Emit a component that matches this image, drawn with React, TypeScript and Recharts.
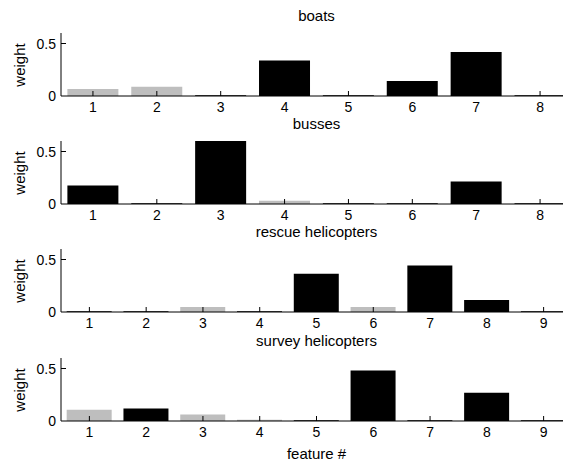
import React from 'react';
import { BarChart, Bar, XAxis, YAxis, Cell } from 'recharts';

const features8 = ['1', '2', '3', '4', '5', '6', '7', '8'];
const features9 = ['1', '2', '3', '4', '5', '6', '7', '8', '9'];
const yTicks = [0, 0.5];

const boatsWeights = [0.067, 0.087, 0.006, 0.337, 0.006, 0.144, 0.42, 0.006];
const boatsShade = ['g', 'g', 'k', 'k', 'k', 'k', 'k', 'k'];

const bussesWeights = [0.176, 0.006, 0.6, 0.032, 0.006, 0.006, 0.215, 0.006];
const bussesShade = ['k', 'k', 'k', 'g', 'k', 'k', 'k', 'k'];

const rescueWeights = [0.006, 0.006, 0.048, 0.006, 0.365, 0.048, 0.442, 0.115, 0.006];
const rescueShade = ['k', 'k', 'g', 'k', 'k', 'g', 'k', 'k', 'k'];

const surveyWeights = [0.106, 0.119, 0.061, 0.012, 0.006, 0.481, 0.006, 0.269, 0.006];
const surveyShade = ['g', 'k', 'g', 'g', 'k', 'k', 'k', 'k', 'k'];

const titles = ['boats', 'busses', 'rescue helicopters', 'survey helicopters'];

const FONT = '"Liberation Sans", Arial, Helvetica, sans-serif';
const GRAY = '#bebebe';
const BLACK = '#000000';

const panels = [
  { title: titles[0], cats: features8, vals: boatsWeights, shade: boatsShade },
  { title: titles[1], cats: features8, vals: bussesWeights, shade: bussesShade },
  { title: titles[2], cats: features9, vals: rescueWeights, shade: rescueShade },
  { title: titles[3], cats: features9, vals: surveyWeights, shade: surveyShade },
];

const panelTops = [0, 108, 216, 325];
const CHART_W = 580;
const PLOT_TOP = 33;
const PLOT_H = 63;
const Y_AXIS_W = 61;
const RIGHT = 8;
const TICK_FS = 14;

const XTick = (props: any) => {
  const { x, y, payload } = props;
  return (
    <g>
      <line x1={x} x2={x} y1={y} y2={y - 5} stroke="#000" strokeWidth={1} />
      <text x={x} y={y + 16.3} textAnchor="middle" fontSize={TICK_FS} fontFamily={FONT} fill="#000">
        {payload.value}
      </text>
    </g>
  );
};

const YTick = (props: any) => {
  const { x, y, payload } = props;
  return (
    <g>
      {payload.value !== 0 && <line x1={x} x2={x + 5} y1={y} y2={y} stroke="#000" strokeWidth={1} />}
      <text x={x - 5} y={y + 5} textAnchor="end" fontSize={TICK_FS} fontFamily={FONT} fill="#000">
        {String(payload.value)}
      </text>
    </g>
  );
};

function Panel({ idx }: { idx: number }) {
  const p = panels[idx];
  const data = p.cats.map((c, i) => ({ feature: c, weight: p.vals[i] }));
  const height = idx === 3 ? 135 : 125;
  const top = panelTops[idx];
  const plotLeft = Y_AXIS_W;
  const plotRight = CHART_W - RIGHT;
  const plotCenter = (plotLeft + plotRight) / 2;
  return (
    <>
      <div
        style={{
          position: 'absolute',
          left: plotCenter,
          top: top + PLOT_TOP - 22.2,
          transform: 'translate(-50%, 0)',
          fontFamily: FONT,
          fontSize: 15,
          lineHeight: '10px',
          whiteSpace: 'nowrap',
          color: '#000',
        }}
      >
        {p.title}
      </div>
      <div
        style={{
          position: 'absolute',
          left: 19,
          top: top + PLOT_TOP + PLOT_H / 2,
          transform: 'translate(-50%, -50%) rotate(-90deg)',
          fontFamily: FONT,
          fontSize: 15,
          lineHeight: '15px',
          whiteSpace: 'nowrap',
          color: '#000',
        }}
      >
        weight
      </div>
      <div style={{ position: 'absolute', left: 0, top }}>
        <BarChart
          width={CHART_W}
          height={height}
          data={data}
          margin={{ top: PLOT_TOP, right: RIGHT, left: 0, bottom: 0 }}
          barCategoryGap="10%"
        >
          <XAxis
            dataKey="feature"
            type="category"
            height={height - PLOT_TOP - PLOT_H}
            tickSize={0}
            tickMargin={0}
            tickLine={false}
            axisLine={{ stroke: '#000', strokeWidth: 1 }}
            tick={<XTick />}
            interval={0}
          />
          <YAxis
            type="number"
            domain={[0, 0.6]}
            ticks={yTicks}
            width={Y_AXIS_W}
            tickSize={0}
            tickMargin={0}
            tickLine={false}
            axisLine={{ stroke: '#000', strokeWidth: 1 }}
            tick={<YTick />}
            allowDataOverflow
          />
          <Bar dataKey="weight" isAnimationActive={false}>
            {data.map((d, i) => (
              <Cell key={d.feature} fill={p.shade[i] === 'g' ? GRAY : BLACK} />
            ))}
          </Bar>
        </BarChart>
      </div>
    </>
  );
}

export default function App() {
  return (
    <div
      style={{
        position: 'absolute',
        left: 0,
        top: 0,
        width: 563,
        height: 460,
        overflow: 'hidden',
        background: '#fff',
      }}
    >
      {[0, 1, 2, 3].map((i) => (
        <Panel key={i} idx={i} />
      ))}
      <div
        style={{
          position: 'absolute',
          left: (Y_AXIS_W + CHART_W - RIGHT) / 2,
          top: 453,
          transform: 'translate(-50%, -50%)',
          fontFamily: FONT,
          fontSize: 15,
          lineHeight: '15px',
          whiteSpace: 'nowrap',
          color: '#000',
        }}
      >
        feature #
      </div>
    </div>
  );
}
